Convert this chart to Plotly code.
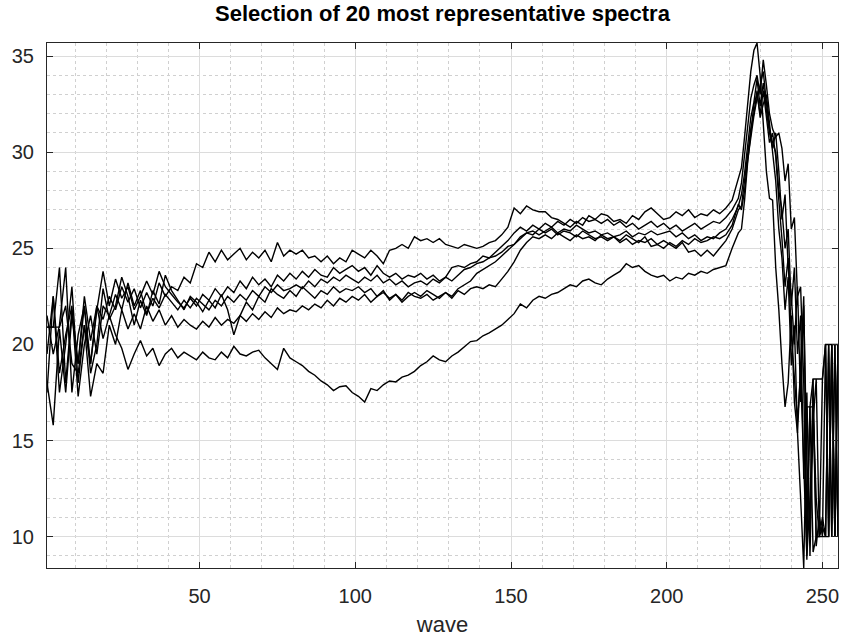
import plotly.graph_objects as go

# wave positions (coarser in body, every unit in the tail)
wave = list(range(1, 224, 2)) + list(range(224, 256))

spec_a = [
    20.9, 20.9, 24.0, 18.0, 21.8, 19.0, 22.5, 20.2, 22.0, 21.3,
    22.5, 21.8, 23.0, 22.2, 22.9, 21.9, 22.7, 22.0, 23.2, 22.5,
    23.0, 22.8, 23.5, 23.2, 24.2, 24.0, 24.8, 24.3, 24.9, 24.4,
    24.7, 25.0, 24.4, 24.8, 24.5, 24.9, 24.3, 25.3, 24.6, 24.9,
    24.7, 24.9, 24.5, 24.6, 24.3, 24.6, 24.2, 24.5, 24.3, 24.9,
    24.7, 24.5, 24.9, 24.6, 24.2, 24.9, 25.0, 25.2, 25.0, 25.6,
    25.4, 25.5, 25.3, 25.5, 25.2, 25.1, 25.0, 25.2, 25.1, 25.0,
    25.1, 25.3, 25.4, 25.7, 26.1, 27.1, 26.8, 27.2, 27.0, 26.9,
    26.9, 26.6, 26.5, 26.3, 26.1, 26.4, 26.2, 26.7, 26.5, 26.8,
    26.7, 26.4, 26.5, 26.3, 26.7, 26.5, 26.9, 27.1, 26.8, 26.5,
    26.6, 26.9, 26.7, 27.0, 26.6, 26.8, 26.7, 27.0, 26.8, 27.1,
    27.5, 28.6,
    29.2, 30.8, 32.5, 34.2, 35.3, 35.68, 34.0, 31.5, 29.0, 27.6,
    27.5, 24.0, 21.8, 19.0, 16.75, 18.0, 21.5, 17.0, 15.4, 12.0,
    8.37, 16.75, 16.75, 18.2, 18.2, 18.2, 18.2, 20.0, 20.0, 20.0,
    20.0, 20.0,
]

spec_b = [
    21.5, 19.5, 21.0, 24.0, 17.5, 20.5, 22.0, 19.0, 21.8, 23.8,
    22.0, 23.4, 22.4, 23.0, 21.8, 22.5, 23.3, 22.6, 23.8, 23.0,
    22.6, 22.2, 21.9, 22.4, 22.0, 22.6, 22.3, 22.9, 22.5, 23.0,
    22.7, 23.3, 22.9, 23.5, 23.1, 23.4, 23.0, 23.6, 23.3, 23.7,
    23.4, 23.8, 23.5, 23.9, 23.6, 23.5, 24.0, 23.7, 23.9, 24.1,
    23.8, 24.0, 23.6, 24.1, 23.7, 23.5, 23.7, 23.4, 23.6, 23.5,
    23.7, 23.4, 23.6, 23.3, 23.5, 24.0, 24.1, 24.0, 24.2, 24.3,
    24.6, 24.5, 24.8, 25.1, 25.4, 25.8, 26.1, 25.9, 26.2, 26.0,
    26.3, 26.1, 26.4, 26.2, 26.5, 26.3, 26.6, 26.4, 26.5, 26.3,
    26.5, 26.2, 26.4, 26.1, 26.3, 26.0, 26.2, 26.4, 26.1, 26.3,
    26.0, 26.2, 25.9, 26.1, 26.3, 26.0, 26.2, 26.4, 26.3, 26.6,
    27.0, 27.6,
    28.4, 29.8, 31.5, 32.8, 33.5, 34.0, 33.0, 34.8, 33.5, 32.0,
    31.2, 30.8, 31.0, 30.2, 28.5, 29.4, 26.0, 26.6, 22.5, 23.0,
    18.0, 8.8, 16.75, 9.2, 10.0, 10.0, 10.5, 10.0, 20.0, 10.0,
    20.0, 10.0,
]

spec_c = [
    17.5, 22.5, 18.5, 20.5, 22.0, 17.3, 20.0, 21.5, 19.5, 22.0,
    21.5, 22.6, 21.8, 23.2, 22.0, 22.8, 21.6, 22.4, 21.9, 22.6,
    22.2, 21.8, 22.3, 21.9, 22.4, 22.1, 21.8, 22.3, 22.0, 22.5,
    22.2, 22.6, 22.3, 22.8, 22.5, 23.0, 22.7, 23.1, 22.8, 22.9,
    23.1, 22.9, 23.3, 23.0, 23.4, 23.2, 23.5, 23.3, 23.6, 23.4,
    23.2, 23.5, 23.3, 23.6, 23.2, 23.4, 23.1, 23.3, 23.0, 23.2,
    23.3, 23.1, 23.4, 23.2, 23.5, 23.3, 23.6, 23.9, 24.0, 24.2,
    24.3, 24.5, 24.6, 24.8, 25.1, 25.2, 25.6, 25.8, 25.9, 25.7,
    25.9, 26.1, 25.8, 26.0, 25.9, 26.2, 26.0, 25.8, 25.9, 25.7,
    25.8, 25.6, 25.7, 25.9, 25.6, 25.8, 25.7, 25.9, 25.7, 25.8,
    25.9, 25.6, 25.8, 25.5, 25.7, 25.4, 25.6, 25.5, 25.8, 26.0,
    26.5, 27.2,
    27.8, 28.9, 30.5, 31.8, 32.6, 33.8, 32.4, 33.6, 32.2, 31.0,
    30.2, 31.0, 29.0, 26.5, 27.8, 24.0, 22.5, 20.0, 23.0, 17.0,
    22.0, 14.0, 10.0, 18.2, 9.5, 11.1, 10.0, 20.0, 10.0, 20.0,
    10.0, 20.0,
]

spec_d = [
    18.0, 15.8, 20.8, 17.5, 21.5, 19.0, 22.0, 18.5, 20.0, 22.9,
    21.3, 22.0, 23.5, 22.5, 21.0, 22.3, 21.5, 22.8, 22.1, 23.6,
    22.8, 22.3, 21.8, 22.5, 22.2, 21.7, 22.3, 21.9, 22.6, 21.8,
    20.5, 21.5, 22.2, 21.8, 22.5, 22.2, 22.9, 22.6, 22.4, 22.8,
    22.5, 23.0, 22.7, 22.4, 22.8, 22.6, 23.0, 22.7, 22.9, 22.8,
    23.0, 22.7, 22.9, 22.5, 22.8, 22.3, 22.6, 22.2, 22.5, 22.7,
    22.5, 22.8, 22.6, 22.4, 22.7, 22.5, 22.9, 23.1, 23.3, 23.7,
    23.9, 24.1, 24.3, 24.6, 24.9, 25.2, 25.5, 25.8, 25.7, 26.0,
    25.8, 26.0, 25.7, 25.9, 25.8, 25.6, 25.9, 25.7, 25.5, 25.6,
    25.4, 25.6, 25.3, 25.5, 25.2, 25.4, 25.3, 25.5, 25.2, 25.4,
    25.2, 25.0, 25.3, 24.8, 24.9, 24.6, 24.9, 24.6, 25.0, 25.4,
    26.0, 27.0,
    27.2, 28.5, 30.0, 31.2, 32.0, 33.2, 31.8, 32.5, 33.0, 31.5,
    30.0, 28.5, 26.0, 24.5, 21.8, 23.5, 18.9, 21.0, 15.4, 19.0,
    22.5, 10.5, 16.75, 16.75, 12.0, 10.0, 11.0, 10.0, 20.0, 10.0,
    20.0, 10.0,
]

spec_e = [
    20.9, 20.9, 20.9, 22.0, 19.0, 18.5, 21.0, 17.3, 19.0, 18.5,
    21.0, 20.0, 21.8, 20.8, 21.6, 20.8, 22.0, 21.2, 21.8, 21.0,
    21.5, 20.9, 21.3, 21.0, 20.8, 21.2, 20.9, 21.4, 21.0, 21.3,
    21.1, 21.5, 21.2, 21.6, 21.3, 21.7, 21.4, 21.9, 21.6, 21.8,
    21.7, 22.0, 21.8, 22.1, 21.9, 22.3, 22.0, 22.4, 22.2, 22.5,
    22.3, 22.6, 22.2, 22.5, 22.7, 22.4, 22.6, 22.3, 22.7, 22.5,
    22.4, 22.6, 22.3, 22.5, 22.7, 22.4, 22.8, 22.6, 22.9, 23.0,
    22.9, 23.1, 23.0, 23.4, 23.8, 24.3, 24.9, 25.3, 25.6, 25.5,
    25.7, 25.5, 25.8, 25.6, 25.4, 25.7, 25.5, 25.6, 25.4, 25.7,
    25.5, 25.6, 25.4, 25.7, 25.5, 25.3, 25.6, 25.1, 25.2, 25.0,
    25.3, 25.1, 25.4, 25.2, 25.5, 25.3, 25.4, 25.6, 25.5, 25.7,
    26.2, 27.3,
    27.0, 28.0, 29.6, 30.8, 31.9, 32.8, 33.5, 34.2, 32.6, 31.2,
    30.5, 30.0, 28.0, 27.0, 25.0, 26.0, 22.0, 24.0, 19.5, 21.5,
    13.0, 17.5, 9.0, 16.0, 18.2, 10.0, 18.2, 20.0, 10.0, 20.0,
    10.0, 20.0,
]

spec_f = [
    19.5, 22.5, 17.5, 20.0, 23.0, 18.0, 21.0, 19.0, 22.0, 20.3,
    21.5, 20.5, 19.8, 18.7, 19.5, 20.2, 19.4, 19.8, 18.9, 19.5,
    19.8, 19.3, 19.6, 19.4, 19.2, 19.6, 19.3, 19.2, 19.6, 19.3,
    19.9, 19.5, 19.4, 19.6, 19.7, 19.3, 19.0, 18.7, 19.8, 19.3,
    19.1, 18.9, 18.6, 18.4, 18.1, 17.9, 17.6, 17.8, 17.85, 17.5,
    17.3, 17.0, 17.7, 17.6, 17.9, 18.1, 18.05, 18.3, 18.4, 18.6,
    18.9, 19.1, 19.4, 19.2, 19.1, 19.4, 19.6, 19.9, 20.15, 20.2,
    20.45, 20.6, 20.8, 21.0, 21.3, 21.6, 22.1, 21.9, 22.3, 22.5,
    22.4, 22.6, 22.7, 22.9, 23.1, 23.0, 23.3, 23.4, 23.2, 23.1,
    23.4, 23.6, 23.8, 24.2, 24.0, 24.1, 23.8, 23.6, 23.5, 23.6,
    23.3, 23.5, 23.4, 23.7, 23.6, 23.8, 23.7, 23.9, 24.0, 24.1,
    25.0, 25.8,
    26.0, 27.5, 29.5, 31.0, 32.5, 33.0, 32.0, 33.2, 31.8, 30.5,
    31.0, 29.8, 27.5, 25.5, 23.0, 24.5, 20.5, 18.0, 16.0, 18.5,
    14.0, 9.0, 12.0, 16.75, 10.0, 10.0, 10.0, 10.0, 10.0, 20.0,
    10.0, 20.0,
]

spectra = [spec_a, spec_b, spec_c, spec_d, spec_e, spec_f]

x_ticks = [50, 100, 150, 200, 250]
y_ticks = [10, 15, 20, 25, 30, 35]

FONT = "Liberation Sans, Arial, Helvetica, sans-serif"
AX = "#262626"

fig = go.Figure()
for s in spectra:
    fig.add_trace(go.Scatter(x=wave, y=s, mode="lines",
                             line=dict(color="black", width=1.4),
                             hoverinfo="skip", showlegend=False))

fig.update_layout(
    width=841, height=637,
    margin=dict(l=47, r=3, t=43, b=69),
    paper_bgcolor="white", plot_bgcolor="white",
    showlegend=False,
    title=dict(text="<b>Selection of 20 most representative spectra</b>",
               x=0.5, xref="paper", xanchor="center",
               y=1 - 13 / 637, yref="container", yanchor="middle",
               font=dict(family=FONT, size=22, color="black")),
)

fig.update_xaxes(
    range=[1, 255], tickmode="array", tickvals=x_ticks,
    ticks="inside", ticklen=6, tickcolor=AX, tickwidth=1,
    showline=True, linecolor=AX, linewidth=1, mirror="ticks",
    showgrid=True, gridcolor="#dcdcdc", gridwidth=1, zeroline=False,
    minor=dict(tick0=0, dtick=10, showgrid=True, gridcolor="#d0d0d0",
               griddash="dot", gridwidth=1, ticks=""),
    tickfont=dict(family=FONT, size=20, color=AX),
    ticklabelstandoff=10,
    title=dict(text="wave", font=dict(family=FONT, size=22, color=AX), standoff=10),
)
fig.update_yaxes(
    range=[8.37, 35.68], tickmode="array", tickvals=y_ticks,
    ticks="inside", ticklen=6, tickcolor=AX, tickwidth=1,
    showline=True, linecolor=AX, linewidth=1, mirror="ticks",
    showgrid=True, gridcolor="#dcdcdc", gridwidth=1, zeroline=False,
    minor=dict(tick0=0, dtick=1, showgrid=True, gridcolor="#d0d0d0",
               griddash="dot", gridwidth=1, ticks=""),
    tickfont=dict(family=FONT, size=20, color=AX),
    ticklabelstandoff=8,
)

fig.write_html("out.html")
